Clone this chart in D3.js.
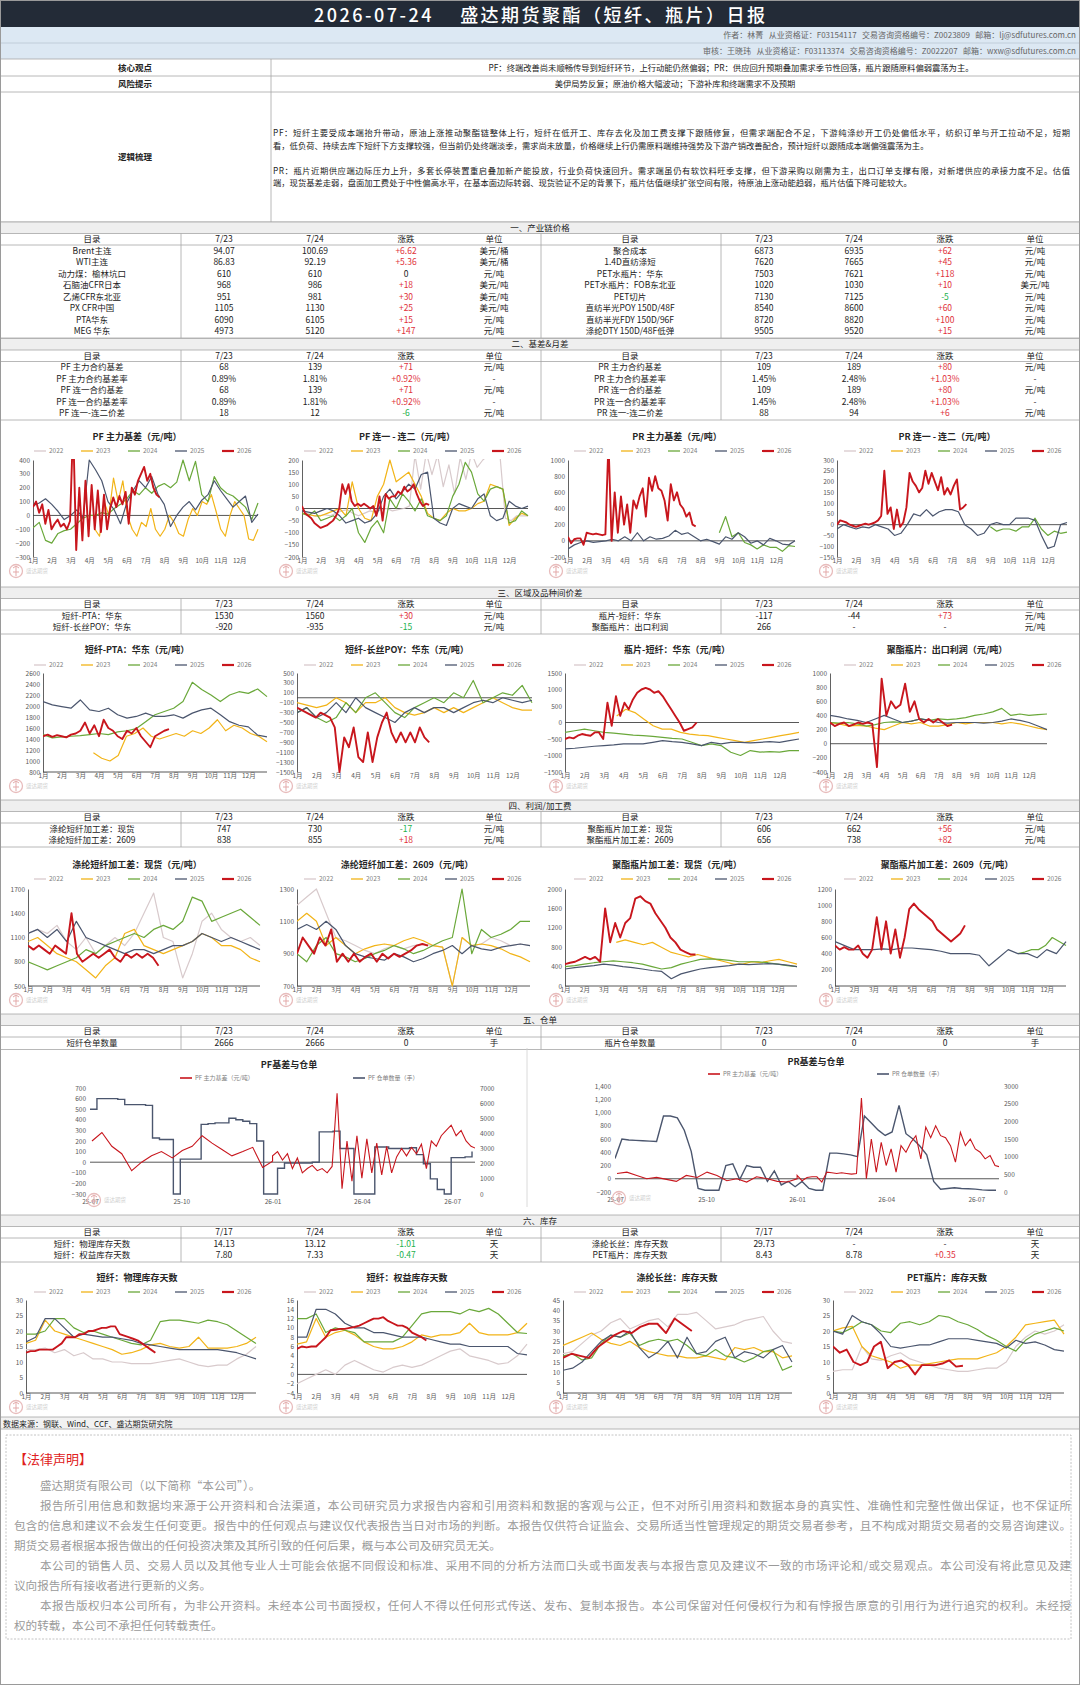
<!DOCTYPE html>
<html><head><meta charset="utf-8">
<script src="https://cdn.jsdelivr.net/npm/d3@7/dist/d3.min.js"></script>
<style>
body{margin:0;background:#fff;}
text{font-family:"Noto Sans CJK SC","Noto Sans",sans-serif;}
</style></head><body>
<svg id="page" width="1080" height="1685"></svg>
<script>
// ---------- 文字 ----------
const reportTitle = "2026-07-24    盛达期货聚酯（短纤、瓶片）日报";
const authorLine = "作者：林菁   从业资格证：F03154117   交易咨询资格编号：Z0023809   邮箱：lj@sdfutures.com.cn";
const reviewLine = "审核：王晓玮   从业资格证：F03113374   交易咨询资格编号：Z0022207   邮箱：wxw@sdfutures.com.cn";
const coreView = "PF：终端改善尚未顺畅传导到短纤环节，上行动能仍然偏弱；PR：供应回升预期叠加需求季节性回落，瓶片跟随原料偏弱震荡为主。";
const riskTip = "美伊局势反复；原油价格大幅波动；下游补库和终端需求不及预期";
const logicLines = [
  "PF：短纤主要受成本端抬升带动，原油上涨推动聚酯链整体上行，短纤在低开工、库存去化及加工费支撑下跟随修复，但需求端配合不足，下游纯涤纱开工仍处偏低水平，纺织订单与开工拉动不足，短期",
  "看，低负荷、持续去库下短纤下方支撑较强，但当前仍处终端淡季，需求尚未放量，价格继续上行仍需原料端维持强势及下游产销改善配合，预计短纤以跟随成本端偏强震荡为主。",
  "PR：瓶片近期供应端边际压力上升，多套长停装置重启叠加新产能投放，行业负荷快速回升。需求端虽仍有软饮料旺季支撑，但下游采购以刚需为主，出口订单支撑有限，对新增供应的承接力度不足。估值",
  "端，现货基差走弱，盘面加工费处于中性偏高水平，在基本面边际转弱、现货验证不足的背景下，瓶片估值继续扩张空间有限，待原油上涨动能趋弱，瓶片估值下降可能较大。"
];

// ---------- 表格 ----------
const chainLeft = [
  ["Brent主连","94.07","100.69","+6.62","美元/桶"],
  ["WTI主连","86.83","92.19","+5.36","美元/桶"],
  ["动力煤：榆林坑口","610","610","0","元/吨"],
  ["石脑油CFR日本","968","986","+18","美元/吨"],
  ["乙烯CFR东北亚","951","981","+30","美元/吨"],
  ["PX CFR中国","1105","1130","+25","美元/吨"],
  ["PTA华东","6090","6105","+15","元/吨"],
  ["MEG 华东","4973","5120","+147","元/吨"]];
const chainRight = [
  ["聚合成本","6873","6935","+62","元/吨"],
  ["1.4D直纺涤短","7620","7665","+45","元/吨"],
  ["PET水瓶片：华东","7503","7621","+118","元/吨"],
  ["PET水瓶片：FOB东北亚","1020","1030","+10","美元/吨"],
  ["PET切片","7130","7125","-5","元/吨"],
  ["直纺半光POY 150D/48F","8540","8600","+60","元/吨"],
  ["直纺半光FDY 150D/96F","8720","8820","+100","元/吨"],
  ["涤纶DTY 150D/48F低弹","9505","9520","+15","元/吨"]];
const basisLeft = [
  ["PF 主力合约基差","68","139","+71","元/吨"],
  ["PF 主力合约基差率","0.89%","1.81%","+0.92%","-"],
  ["PF 连一合约基差","68","139","+71","元/吨"],
  ["PF 连一合约基差率","0.89%","1.81%","+0.92%","-"],
  ["PF 连一-连二价差","18","12","-6","元/吨"]];
const basisRight = [
  ["PR 主力合约基差","109","189","+80","元/吨"],
  ["PR 主力合约基差率","1.45%","2.48%","+1.03%","-"],
  ["PR 连一合约基差","109","189","+80","元/吨"],
  ["PR 连一合约基差率","1.45%","2.48%","+1.03%","-"],
  ["PR 连一-连二价差","88","94","+6","元/吨"]];
const spreadLeft = [["短纤-PTA：华东","1530","1560","+30","元/吨"],["短纤-长丝POY：华东","-920","-935","-15","元/吨"]];
const spreadRight = [["瓶片-短纤：华东","-117","-44","+73","元/吨"],["聚酯瓶片：出口利润","266","-","-","元/吨"]];
const marginLeft = [["涤纶短纤加工差：现货","747","730","-17","元/吨"],["涤纶短纤加工差：2609","838","855","+18","元/吨"]];
const marginRight = [["聚酯瓶片加工差：现货","606","662","+56","元/吨"],["聚酯瓶片加工差：2609","656","738","+82","元/吨"]];
const receiptLeft = [["短纤仓单数量","2666","2666","0","手"]];
const receiptRight = [["瓶片仓单数量","0","0","0","手"]];
const invLeft = [["短纤：物理库存天数","14.13","13.12","-1.01","天"],["短纤：权益库存天数","7.80","7.33","-0.47","天"]];
const invRight = [["涤纶长丝：库存天数","29.73","-","-","天"],["PET瓶片：库存天数","8.43","8.78","+0.35","天"]];
const dayDates = ["7/23","7/24"];
const weekDates = ["7/17","7/24"];

// ---------- 季节性序列（数值沿起止月份均匀排布）----------
const monthLabels = ["1月","2月","3月","4月","5月","6月","7月","8月","9月","10月","11月","12月"];
const years = [2022,2023,2024,2025,2026];

const pfBasis23 = [-100,-150,100,0,270,100,250,0,-100,-150,-50,-80,50,-100,-150,-100,0,-50,-130,-150,-30,50,0,100,80,150,30,-100,-150,0,100,50,0,-170,-180,-100];
const pfBasis24 = [-90,-50,-180,-200,-130,-110,-100,-60,-20,0,0,20,10,50,80,120,180,150,200,160,210,230,200,240,400,250,390,150,100,280,200,160,140,100,60,-30,90];
const pfBasis25 = [70,90,120,80,30,-30,0,40,-20,400,330,250,100,40,-60,90,180,250,200,280,150,80,-80,0,60,100,40,110,150,250,180,120,60,100,140,-50,10];
const pfBasis26 = [60,100,20,80,-60,40,-100,-60,-30,-80,-60,-100,-40,650,-250,200,-180,250,-150,220,-100,180,-120,150,-100,50,130,60,140,80,170,-60,200,150,250,300,350,250,300,200,150,130];

const pfSpread22 = [0,-20,-30,-30,-25,-30,-20,-10,-5,-20,-30,-20,-10,-15,-5,0,-10,-5,0,10,220,80,230,140,220,90,180,60,210,120,230,170,200,220,210,230,-40,-50,-30,-30,-30];
const pfSpread23 = [-20,-25,-30,-30,-20,-10,0,-30,110,0,-40,-50,50,100,200,110,130,150,100,50,-20,-40,-50,-20,0,-10,-10,0,20,30,100,90,80,-70,-40,-20,-30];
const pfSpread24 = [-20,-30,-10,-50,-40,-30,-50,-30,0,-100,-140,-80,-50,-100,40,0,60,30,-10,40,-30,-40,-50,-30,50,100,190,150,60,30,80,90,80,-60,-50,-10,-30];
const pfSpread25 = [-10,-15,-20,-10,0,-10,-30,-60,-50,-40,-60,-50,-20,50,80,40,70,100,80,140,150,-40,-60,-70,0,20,10,0,40,60,-30,-50,-40,30,10,0,10];
const pfSpread26 = [10,-20,-30,-40,-60,-70,-80,-75,-70,-60,-50,-30,0,100,60,100,30,10,20,10,20,10,0,10,-30,50,-50,60,40,50,50,70,60,90,70,80,100,60,30,10,20,15];

const prBasis24 = [100,300,50,100,-20,-50,-100,-50,-80,-80,-130,-60,-70];
const prBasis25 = [-100,-50,-20,0,-20,-10,0,20,0,50,0,100,0,50,20,30,60,130,80,100,50,0,20,-10,-40,50,20,100,50,-30,0,-50,30,0,-40,-50,0];
const prBasis26 = [50,-30,20,30,30,-50,100,90,80,90,80,70,80,1220,0,600,100,550,200,450,100,500,400,550,650,300,780,620,800,650,620,500,250,700,500,600,450,400,300,350,200,180];

const prSpread24 = [-10,-30,-20,-20,-30,-10,-10,30,-20,-50,-30,-40,-35];
const prSpread25 = [-20,0,-10,-20,-10,-15,0,-10,-20,-50,-40,0,50,40,70,40,60,70,70,60,0,-20,-50,-40,0,10,0,0,30,30,30,20,-50,-110,-100,0,10];
const prSpread26 = [0,20,15,10,0,-5,-10,-5,0,5,0,5,10,20,40,250,50,80,-20,70,-10,10,80,240,200,180,150,170,250,190,240,200,160,220,140,170,140,180,210,70,80,95];

const ptaSpread23 = [1150,1050,1000,1100,1450,1500,1600,1450,1400,1450,1500,1450,1550,1500,1600,1750,1550,1650,1600,1500,1450,1350];
const ptaSpread24 = [1480,1420,1440,1450,1460,1480,1500,1480,1530,1550,1590,1715,1840,1900,1960,2080,2430,2300,2200,2080,2200,2260,2230,2310,2170];
const ptaSpread25 = [2080,2020,1990,1960,2110,1930,1900,1960,1840,1780,1810,1870,1810,1810,1840,1780,1870,1930,1960,1840,1715,1650,1620,1470,1440];
const ptaSpread26 = [1450,1480,1440,1470,1450,1430,1480,1500,1550,1700,1500,1650,1450,1750,1600,1550,1450,1400,1550,1500,1600,1450,1350,1250,1450,1500,1550,1580];

const poySpread23 = [-100,-150,-200,-150,0,-100,-300,-100,-100,0,-200,-300,-350,-300,-200,-300,-200,-300,-200,-100,0,-100,-200,-250,-250];
const poySpread24 = [-300,-200,-400,-500,-400,-100,-300,0,100,-100,-300,-400,-200,-100,0,-100,100,0,350,-100,0,100,50,250,-100];
const poySpread25 = [-300,-200,-400,-300,-100,-300,0,-200,-300,-400,-500,-300,-200,-300,-200,-200,-300,-200,-100,-50,-100,0,-50,-100,-50];
const poySpread26 = [-200,-250,-300,-350,-400,-300,-350,-400,-600,-1500,-800,-1000,-600,-1200,-1300,-700,-1300,-800,-500,-300,-700,-900,-700,-900,-700,-900,-600,-800,-900];

const bottleFiber23 = [200,400,300,100,-100,-200,-200,-300,-350,-380,-400,-450,-500,-550,-600,-550,-500,-450,-400,-350,-300];
const bottleFiber24 = [-300,-250,-200,-250,-300,-320,-350,-380,-400,-420,-450,-480,-500,-600,-700,-650,-700,-900,-1000,-850,-900,-880,-900,-850,-850];
const bottleFiber25 = [-800,-780,-750,-720,-700,-680,-650,-650,-650,-600,-550,-580,-600,-650,-700,-600,-650,-600,-600,-620,-600,-580,-600,-550,-500];
const bottleFiber26 = [-500,-450,-480,-400,-350,-380,-400,-300,-300,-500,600,-100,800,200,600,400,700,900,1000,1050,1000,900,950,800,600,400,200,0,-250,-200,-150,0];

const exportProfit23 = [300,280,250,260,250,220,200,250,300,280,300,250,250,270,300,280,300,300,300,280,300,280,250,220,200];
const exportProfit24 = [300,290,300,280,250,270,300,310,300,320,350,330,350,340,350,370,400,420,450,500,400,420,400,410,420];
const exportProfit25 = [400,380,350,330,300,350,400,350,300,320,350,330,300,290,300,300,300,290,300,320,350,330,300,250,200];
const exportProfit26 = [300,250,280,300,250,270,300,280,300,280,-330,920,400,600,500,550,850,450,600,350,300,350,300,350,300,250,270];

const fiberSpot22 = [1150,1200,1150,1250,1050,950,1100,900,1000,1100,1000,1150,1400,1650,1100,1050,600,900,1300,1400,1200,1100,1050,1100,1000];
const fiberSpot23 = [1050,1100,1000,900,850,800,700,600,750,850,1150,1200,1000,950,900,950,1000,1050,1150,1100,1000,1000,950,850,800];
const fiberSpot24 = [800,750,700,750,800,850,950,900,1000,1050,1100,1150,1100,1200,1250,1200,1300,1600,1550,1300,1350,1400,1450,1350,1250];
const fiberSpot25 = [1150,1200,1100,1200,1050,1300,1100,1050,1000,950,900,950,950,900,950,1000,1000,1050,1150,1100,1050,1100,1050,1000,950];
const fiberSpot26 = [1000,950,1000,950,900,1000,950,900,1400,900,800,850,900,850,900,950,850,800,900,850,900,850,900,850,750];

const fiber2609_22 = [1200,1250,1300,1150,1000,980,950,920,900,930,950,930,950,960,950,940,700,1000,950,960,1000,980,950,960,950];
const fiber2609_23 = [1100,1150,1100,950,1000,950,900,930,950,960,950,980,1000,980,950,940,700,1000,950,960,950,930,900,880,850];
const fiber2609_24 = [900,850,950,1000,900,880,850,870,900,920,950,930,900,920,950,980,1000,1300,900,1050,1000,1020,1050,1100,1100];
const fiber2609_25 = [1050,1080,1050,1100,1050,950,900,880,870,860,900,880,850,870,900,920,950,900,950,930,920,940,950,960,950];
const fiber2609_26 = [900,1000,950,900,1000,950,1050,850,900,850,900,850,880,900,850,900,870,900,880,900,920,950,960,950];

const bottleSpot23 = [900,950,900,850,900,800,700,650,600,650,600,550,500,450,450,500,480,520,550,500,450];
const bottleSpot24 = [400,420,450,480,500,520,500,480,450,400,350,380,450,500,550,560,550,530,500,500,500,480,450,420,400];
const bottleSpot25 = [350,380,400,420,450,430,400,380,350,320,300,150,250,300,350,380,400,420,450,440,450,460,450,430,400];
const bottleSpot26 = [450,480,500,550,600,550,600,500,1600,900,1300,1000,1300,1400,1800,1850,1750,1700,1500,1350,1200,1000,900,750,700,650,650];

const bottle2609_24 = [400,420,450,450,500,600,550,500];
const bottle2609_25 = [550,500,450,450,450,460,450,470,470,460,450,430,400,400,400,380,250,350,450,400,400,350,450,400,550];
const bottle2609_26 = [500,450,480,450,450,500,400,350,450,850,450,800,400,700,350,600,950,1020,950,900,850,800,700,650,600,550,600,650,750];

const fiberPhys22 = [14,14,14.5,13,14,12,13,11,11,10,10,9.5,9.5,9.5,10,10.5,11,10,9,8.5,9,9,11,12.5,15];
const fiberPhys23 = [16,17,23.5,20,19,18,17,16,15,14,12.5,13,14,15.5,16,15,14.5,15,18,14.5,14.5,14.5,15,16,18];
const fiberPhys24 = [19,19,20,24,24,21,19.5,20,19,18,17,16,15.5,17,23,23.5,23.5,23,22.5,23.5,23,22,20,18,16];
const fiberPhys25 = [16.5,18,24,24,21,18,19,18.5,18,18,17.5,17,16,15.5,15,14.5,14,14,14,14,14,13.5,13,12,11];
const fiberPhys26 = [13,13.5,13.5,14,14,14,14,15,16,18,18,18,19,19,20,20,20.5,21,21,21.5,21.5,19,18.5,18,17.5,17,16,15,14,13];

const fiberEq22 = [-2,-1,0,1,0,2,3,2,1,0.5,1.5,2,1.5,2,3,4,5,5.5,4,3.5,3,2.2,2.5,4,6.5];
const fiberEq23 = [6.5,7,12,8,9,9.5,8.5,7,6,5.5,5.5,6,7,8.5,8,8.5,8.5,9,11,9,8.5,8.5,8.5,9,11];
const fiberEq24 = [12,12,13,9,10,9.5,9,7,7,7,7,8,10.5,13,13.5,13.5,13.5,13,14,13.5,14.2,13,11,9,8.8];
const fiberEq25 = [8,8,14,14,13,11,10,10,9,9,8.5,8,8,8,7.5,7,6.5,6.5,6,6,6,6,6,4.5,4.2];
const fiberEq26 = [5.5,6,5.8,6,6,7,8,9.5,9.6,9.8,9.8,10,10.2,10.5,11,11.5,12,12,12.3,11.5,11,10.5,10.5,10,9,8.5,8,7.3];

const filament22 = [19,20,24,28,30,34,36,31,33,35,36,32,38,38,39,35,31,32,33,35,36,37,30,25,24];
const filament23 = [23,25,27,29,26,24,23,25,22,20,19,18,18,17,17,18,17,16,22,21,22,20,20,17,18];
const filament24 = [18,19,16,17,24,28,27,29,23,25,26,25,26,23,19,18,21,18,17,15,17,20,21,11,13];
const filament25 = [11,12,15,20,25,28,27,30,22,17,20,25,17,27,19,20,25,27,17,20,19,17,21,23,15];
const filament26 = [17,19,18,17,22,25,28,30,29,32,33.5,33.5,29,36,33,30];

const petInv22 = [7,7.5,7.5,15,11,10.5,12,13,11,10,9,8,7.5,7,7,7.5,8,8,10,15,18,20,19,20,22];
const petInv23 = [20,21,21.5,15,12,11,10,8,9,9,9.5,10,10.5,11,11,11,12,13,15,18,22,22.5,23,23.5,19];
const petInv24 = [20,19.5,21,23,22,20,19.5,22.5,23,22,23,25,24.5,23,22,20.5,18.5,17,15,13.5,17,19,20,21,20];
const petInv25 = [20,19,25,23,22,19,15,14.5,15,15.5,15.5,16.5,17.5,17.5,17.5,17,16.5,16,14.5,17,16,16.5,15.5,14,13.5];
const petInv26 = [15,13,14,10,9,10,15,16.5,8,10,10.5,9,6,9,9,9,9.5,10.5,8.5,8.8];

// ---------- 仓单（周度，自2025-07-01起）----------
const pfReceipts = [5600,6300,6300,6300,6250,5900,5900,5900,5850,3700,3600,3600,0,2300,2300,2300,4600,4650,4700,4700,5000,4900,4800,4650,3500,0,0,1700,2050,2050,2050,2050,2100,4100,4100,4150,3000,3000,0,0,0,3100,3100,3000,3000,3000,3050,2600,2000,1000,300,0,2400,2400,2450,2800];
const prReceipts = [950,1500,1470,1460,1450,1440,1430,2150,2150,2100,1750,1150,100,50,50,50,750,800,350,750,700,700,300,600,200,300,150,300,100,50,50,1100,1100,1080,1050,1000,2150,1950,1750,1600,1700,2450,1650,1500,1300,1050,300,80,100,120,100,90,80,60,50,50];
const receiptTickLabels = ["25-07","25-10","26-01","26-04","26-07"];

const legalLines = [
  "盛达期货有限公司（以下简称“本公司”）。",
  "报告所引用信息和数据均来源于公开资料和合法渠道，本公司研究员力求报告内容和引用资料和数据的客观与公正，但不对所引用资料和数据本身的真实性、准确性和完整性做出保证，也不保证所",
  "包含的信息和建议不会发生任何变更。报告中的任何观点与建议仅代表报告当日对市场的判断。本报告仅供符合证监会、交易所适当性管理规定的期货交易者参考，且不构成对期货交易者的交易咨询建议。",
  "期货交易者根据本报告做出的任何投资决策及其所引致的任何后果，概与本公司及研究员无关。",
  "本公司的销售人员、交易人员以及其他专业人士可能会依据不同假设和标准、采用不同的分析方法而口头或书面发表与本报告意见及建议不一致的市场评论和/或交易观点。本公司没有将此意见及建",
  "议向报告所有接收者进行更新的义务。",
  "本报告版权归本公司所有，为非公开资料。未经本公司书面授权，任何人不得以任何形式传送、发布、复制本报告。本公司保留对任何侵权行为和有悖报告原意的引用行为进行追究的权利。未经授",
  "权的转载，本公司不承担任何转载责任。"
];

// ======================================================
const svg = d3.select("#page");
const W = 1080;
const yearColor = {2022:"#d8cacc",2023:"#f2b418",2024:"#6aa83a",2025:"#4b566e",2026:"#c8161d"};
const lineGray = "#a6a6a6";

function hline(y, x1 = 0, x2 = W, c = lineGray) {
  svg.append("line").attr("x1", x1).attr("x2", x2).attr("y1", y).attr("y2", y).attr("stroke", c).attr("stroke-width", 0.8);
}
function vline(x, y1, y2, c = lineGray) {
  svg.append("line").attr("x1", x).attr("x2", x).attr("y1", y1).attr("y2", y2).attr("stroke", c).attr("stroke-width", 0.8);
}
function txt(x, y, s, size, opt = {}) {
  const t = svg.append("text").attr("x", x).attr("y", y).attr("text-anchor", opt.anchor || "middle")
    .attr("fill", opt.fill || "#222").style("font-size", size + "px").text(s);
  if (opt.bold) t.style("font-weight", "bold");
  if (opt.len) t.attr("textLength", opt.len).attr("lengthAdjust", "spacing");
  if (opt.pre) t.style("white-space", "pre");
  return t;
}

// ---------- 顶部 ----------
svg.append("rect").attr("x", 0).attr("y", 0).attr("width", W).attr("height", 27).attr("fill", "#232b37");
txt(314, 21.5, reportTitle, 18, {anchor: "start", fill: "#fff", pre: true, len: 451}).style("font-weight", "500");
svg.append("rect").attr("x", 0).attr("y", 27).attr("width", W).attr("height", 32).attr("fill", "#dce8f3");
hline(43, 0, W, "#b9c6d2");
hline(59);
txt(1076, 38, authorLine, 8, {anchor: "end", fill: "#666", pre: true});
txt(1076, 54, reviewLine, 8, {anchor: "end", fill: "#666", pre: true});
hline(76); hline(92); hline(222);
vline(271, 59, 222);
txt(135, 70.5, "核心观点", 8.5, {bold: true});
txt(731, 70.5, coreView, 8.3);
txt(135, 87, "风险提示", 8.5, {bold: true});
txt(675, 87, riskTip, 8.3);
txt(135, 160, "逻辑梳理", 8.5, {bold: true});
[136, 149, 174, 186].forEach((y, i) => txt(273, y, logicLines[i], 8.3, {anchor: "start", len: i % 2 === 0 ? 797 : null}));

// ---------- 表格 ----------
const colX = [92, 224, 315, 406, 494, 630, 764, 854, 945, 1035];
function changeColor(v) {
  if (v.startsWith("+")) return "#e0313a";
  if (v.startsWith("-") && v.length > 1) return "#22b14c";
  return "#222";
}
function table(top, title, dates, left, right) {
  const h = 11.5, l1 = top + h, l2 = l1 + h, bottom = l2 + h * left.length + 1;
  svg.append("rect").attr("x", 0).attr("y", top).attr("width", W).attr("height", h).attr("fill", "#efefef");
  hline(top); hline(l1); hline(l2); hline(bottom);
  [181, 541, 721].forEach(x => vline(x, l1, bottom));
  txt(540, top + 8.8, title, 8.5);
  const head = ["目录", dates[0], dates[1], "涨跌", "单位"];
  head.concat(head).forEach((s, i) => txt(colX[i], l1 + 8.8, s, 8.5));
  [left, right].forEach((rows, side) => {
    rows.forEach((r, i) => {
      r.forEach((v, j) => {
        txt(colX[side * 5 + j], l2 + h * i + 8.8, v, 8.5, {fill: j === 3 ? changeColor(v) : "#222"});
      });
    });
  });
  return bottom;
}
table(222, "一、产业链价格", dayDates, chainLeft, chainRight);
table(338.5, "二、基差&月差", dayDates, basisLeft, basisRight);
table(587, "三、区域及品种间价差", dayDates, spreadLeft, spreadRight);
table(800, "四、利润/加工费", dayDates, marginLeft, marginRight);
table(1014, "五、仓单", dayDates, receiptLeft, receiptRight);
table(1215, "六、库存", weekDates, invLeft, invRight);

// ---------- 季节性图 ----------
const rowGeo = [
  {title: 436, legend: 451, top: 460, bottom: 557, label: 566},
  {title: 649, legend: 665, top: 673, bottom: 772, label: 781},
  {title: 864, legend: 879, top: 889, bottom: 986, label: 995},
  {title: 1277, legend: 1292, top: 1300, bottom: 1393, label: 1402}
];
const charts = [
  {cell: 0, left: 33, right: 258, row: 0, title: "PF 主力基差（元/吨）", domain: [-300, 400], step: 100,
   series: [[2023, 3.3, 12, pfBasis23], [2024, 0, 12, pfBasis24], [2025, 0, 12, pfBasis25], [2026, 0, 6.75, pfBasis26]]},
  {cell: 270, left: 302, right: 528, row: 0, title: "PF 连一 - 连二（元/吨）", domain: [-200, 200], step: 50,
   series: [[2022, 0, 12, pfSpread22], [2023, 0, 12, pfSpread23], [2024, 0, 12, pfSpread24], [2025, 0, 12, pfSpread25], [2026, 0, 6.75, pfSpread26]]},
  {cell: 540, left: 568, right: 795, row: 0, title: "PR 主力基差（元/吨）", domain: [-200, 1000], step: 200,
   series: [[2024, 8, 12, prBasis24], [2025, 0, 12, prBasis25], [2026, 0, 6.75, prBasis26]]},
  {cell: 810, left: 837, right: 1067, row: 0, title: "PR 连一 - 连二（元/吨）", domain: [-150, 300], step: 50,
   series: [[2024, 8, 12, prSpread24], [2025, 0, 12, prSpread25], [2026, 0, 6.75, prSpread26]]},
  {cell: 0, left: 43, right: 267, row: 1, title: "短纤-PTA：华东（元/吨）", domain: [800, 2600], step: 200,
   series: [[2023, 2.7, 12, ptaSpread23], [2024, 0, 12, ptaSpread24], [2025, 0, 12, ptaSpread25], [2026, 0, 6.75, ptaSpread26]]},
  {cell: 270, left: 297, right: 532, row: 1, title: "短纤-长丝POY：华东（元/吨）", domain: [-1500, 500], step: 200,
   series: [[2023, 0, 12, poySpread23], [2024, 0, 12, poySpread24], [2025, 0, 12, poySpread25], [2026, 0, 6.75, poySpread26]]},
  {cell: 540, left: 565, right: 799, row: 1, title: "瓶片-短纤：华东（元/吨）", domain: [-1500, 1500], step: 500,
   series: [[2023, 2.65, 12, bottleFiber23], [2024, 0, 12, bottleFiber24], [2025, 0, 12, bottleFiber25], [2026, 0, 6.75, bottleFiber26]]},
  {cell: 810, left: 830, right: 1047, row: 1, title: "聚酯瓶片：出口利润（元/吨）", domain: [-400, 1000], step: 200,
   series: [[2023, 0, 12, exportProfit23], [2024, 0, 12, exportProfit24], [2025, 0, 12, exportProfit25], [2026, 0, 6.75, exportProfit26]]},
  {cell: 0, left: 28, right: 260, row: 2, title: "涤纶短纤加工差：现货（元/吨）", domain: [500, 1700], step: 300,
   series: [[2022, 0, 12, fiberSpot22], [2023, 0, 12, fiberSpot23], [2024, 0, 12, fiberSpot24], [2025, 0, 12, fiberSpot25], [2026, 0, 6.75, fiberSpot26]]},
  {cell: 270, left: 297, right: 530, row: 2, title: "涤纶短纤加工差：2609（元/吨）", domain: [700, 1300], step: 200,
   series: [[2022, 0, 12, fiber2609_22], [2023, 0, 12, fiber2609_23], [2024, 0, 12, fiber2609_24], [2025, 0, 12, fiber2609_25], [2026, 0, 6.75, fiber2609_26]]},
  {cell: 540, left: 565, right: 797, row: 2, title: "聚酯瓶片加工差：现货（元/吨）", domain: [0, 2000], step: 400,
   series: [[2023, 2.65, 12, bottleSpot23], [2024, 0, 12, bottleSpot24], [2025, 0, 12, bottleSpot25], [2026, 0, 6.75, bottleSpot26]]},
  {cell: 810, left: 835, right: 1066, row: 2, title: "聚酯瓶片加工差：2609（元/吨）", domain: [0, 1200], step: 200,
   series: [[2024, 9.5, 12, bottle2609_24], [2025, 0, 12, bottle2609_25], [2026, 0, 6.75, bottle2609_26]]},
  {cell: 0, left: 26, right: 256, row: 3, title: "短纤：物理库存天数", domain: [0, 30], step: 5,
   series: [[2022, 0, 12, fiberPhys22], [2023, 0, 12, fiberPhys23], [2024, 0, 12, fiberPhys24], [2025, 0, 12, fiberPhys25], [2026, 0, 6.75, fiberPhys26]]},
  {cell: 270, left: 297, right: 527, row: 3, title: "短纤：权益库存天数", domain: [-4, 16], step: 2,
   series: [[2022, 0, 12, fiberEq22], [2023, 0, 12, fiberEq23], [2024, 0, 12, fiberEq24], [2025, 0, 12, fiberEq25], [2026, 0, 6.75, fiberEq26]]},
  {cell: 540, left: 563, right: 792, row: 3, title: "涤纶长丝：库存天数", domain: [0, 45], step: 5,
   series: [[2022, 0, 12, filament22], [2023, 0, 12, filament23], [2024, 0, 12, filament24], [2025, 0, 12, filament25], [2026, 0, 6.75, filament26]]},
  {cell: 810, left: 833, right: 1064, row: 3, title: "PET瓶片：库存天数", domain: [0, 30], step: 5,
   series: [[2022, 0, 12, petInv22], [2023, 0, 12, petInv23], [2024, 0, 12, petInv24], [2025, 0, 12, petInv25], [2026, 0, 6.75, petInv26]]}
];

function toPoints(start, end, vals) {
  const n = vals.length;
  return vals.map((v, i) => ({m: start + (end - start) * i / (n - 1), v}));
}

function logo(g, x, y) {
  g.append("circle").attr("cx", x).attr("cy", y).attr("r", 6.5).attr("fill", "none").attr("stroke", "#e8bcbc").attr("stroke-width", 1.3);
  g.append("path").attr("d", `M${x - 3},${y - 3}L${x},${y - 5}L${x + 3},${y - 3}M${x},${y - 5}V${y + 5}M${x - 3},${y + 1}H${x + 3}`)
    .attr("stroke", "#e3a9a9").attr("fill", "none").attr("stroke-width", 1);
  g.append("text").attr("x", x + 10).attr("y", y + 2).attr("fill", "#cfcfcf").style("font-size", "5.5px").text("盛达期货");
}

function styleAxis(a, size) {
  a.attr("font-family", null).attr("font-size", null);
  a.selectAll("text").attr("fill", "#595959").style("font-size", size + "px");
  a.selectAll(".tick line").remove();
}

charts.forEach((c, ci) => {
  const r = rowGeo[c.row];
  const g = svg.append("g");
  const x = d3.scaleLinear().domain([0, 12]).range([c.left, c.right]);
  const y = d3.scaleLinear().domain(c.domain).range([r.bottom, r.top]);

  g.append("text").attr("x", c.cell + 137).attr("y", r.title + 3.5).attr("text-anchor", "middle")
    .attr("fill", "#262626").style("font-size", "9px").style("font-weight", "bold").text(c.title);

  years.forEach((yr, i) => {
    const lx = c.cell + 34 + i * 47;
    g.append("line").attr("x1", lx).attr("x2", lx + 12).attr("y1", r.legend).attr("y2", r.legend)
      .attr("stroke", yearColor[yr]).attr("stroke-width", yr === 2026 ? 2.2 : 1.3);
    g.append("text").attr("x", lx + 15).attr("y", r.legend + 2.3).attr("fill", "#808080").style("font-size", "6.5px").text(yr);
  });

  const ticks = d3.range(c.domain[0], c.domain[1] + c.step / 2, c.step);
  g.append("g").attr("transform", `translate(${c.left},0)`)
    .call(d3.axisLeft(y).tickValues(ticks).tickSize(0).tickPadding(3).tickFormat(d3.format("d")))
    .call(a => { styleAxis(a, 6.5); a.select(".domain").attr("stroke", "#3a3a3a").attr("stroke-width", 0.8); });

  const base = (c.domain[0] < 0 && c.domain[1] > 0) ? 0 : c.domain[0];
  g.append("line").attr("x1", c.left).attr("x2", c.right).attr("y1", y(base)).attr("y2", y(base))
    .attr("stroke", "#444").attr("stroke-width", 0.9);

  g.append("g").attr("transform", `translate(0,${r.label - 6})`)
    .call(d3.axisBottom(x).tickValues(d3.range(12)).tickSize(0).tickPadding(0).tickFormat(i => monthLabels[i]))
    .call(a => { styleAxis(a, 6.5); a.select(".domain").remove(); a.selectAll("text").attr("dy", "0.5em"); });

  const clipId = "clip" + ci;
  g.append("clipPath").attr("id", clipId).append("rect")
    .attr("x", c.left).attr("y", r.top - 1).attr("width", c.right - c.left + 2).attr("height", r.bottom - r.top + 2);
  const line = d3.line().x(d => x(d.m)).y(d => y(d.v));
  const plot = g.append("g").attr("clip-path", `url(#${clipId})`);
  c.series.forEach(([yr, s, e, vals]) => {
    plot.append("path").datum(toPoints(s, e, vals)).attr("d", line).attr("fill", "none")
      .attr("stroke", yearColor[yr]).attr("stroke-width", yr === 2026 ? 1.9 : 1.2).attr("stroke-linejoin", "round");
  });
  logo(g, c.cell + 16, r.label + 5);
});

// ---------- 基差与仓单 ----------
function seasonalToDates(year, start, end, vals, fromMonth) {
  return toPoints(start, end, vals).filter(p => p.m >= fromMonth)
    .map(p => ({d: new Date(year, 0, 1 + Math.round(p.m * 365 / 12)), v: p.v}));
}
function weeklyDates(vals) {
  return vals.map((v, i) => ({d: new Date(2025, 6, 1 + 7 * i), v}));
}
const receiptCharts = [
  {title: "PF基差与仓单", tx: 289, ty: 1065, ly: 1078, lx: [180, 353], left: 90, right: 475, top: 1088, bottom: 1194,
   lDomain: [-300, 700], lStep: 100, lFmt: d3.format("d"), rDomain: [0, 7000], rStep: 1000,
   names: ["PF 主力基差（元/吨）", "PF 仓单数量（手）"],
   basis: seasonalToDates(2025, 0, 12, pfBasis25, 6).concat(seasonalToDates(2026, 0, 6.75, pfBasis26, 0)),
   receipts: weeklyDates(pfReceipts), curve: d3.curveStepAfter},
  {title: "PR基差与仓单", tx: 816, ty: 1062, ly: 1074, lx: [708, 877], left: 615, right: 999, top: 1086, bottom: 1192,
   lDomain: [-200, 1400], lStep: 200, lFmt: d3.format(","), rDomain: [0, 3000], rStep: 500,
   names: ["PR 主力基差（元/吨）", "PR 仓单数量（手）"],
   basis: seasonalToDates(2025, 0, 12, prBasis25, 6).concat(seasonalToDates(2026, 0, 6.75, prBasis26, 0)),
   receipts: weeklyDates(prReceipts), curve: d3.curveLinear}
];
vline(527, 1048, 1207, "#d0d0d0");
receiptCharts.forEach((c, ci) => {
  const g = svg.append("g");
  const x = d3.scaleTime().domain([new Date(2025, 6, 1), new Date(2026, 6, 24)]).range([c.left, c.right]);
  const yl = d3.scaleLinear().domain(c.lDomain).range([c.bottom, c.top]);
  const yr = d3.scaleLinear().domain(c.rDomain).range([c.bottom, c.top]);
  g.append("text").attr("x", c.tx).attr("y", c.ty + 3).attr("text-anchor", "middle").attr("fill", "#262626")
    .style("font-size", "9px").style("font-weight", "bold").text(c.title);
  [yearColor[2026], "#4b566e"].forEach((col, i) => {
    g.append("line").attr("x1", c.lx[i]).attr("x2", c.lx[i] + 12).attr("y1", c.ly).attr("y2", c.ly)
      .attr("stroke", col).attr("stroke-width", 1.6);
    g.append("text").attr("x", c.lx[i] + 15).attr("y", c.ly + 2.2).attr("fill", "#808080").style("font-size", "6px").text(c.names[i]);
  });
  g.append("g").attr("transform", `translate(${c.left},0)`)
    .call(d3.axisLeft(yl).tickValues(d3.range(c.lDomain[0], c.lDomain[1] + 1, c.lStep)).tickSize(0).tickPadding(4).tickFormat(c.lFmt))
    .call(a => { styleAxis(a, 6.5); a.select(".domain").remove(); });
  g.append("g").attr("transform", `translate(${c.right},0)`)
    .call(d3.axisRight(yr).tickValues(d3.range(c.rDomain[0], c.rDomain[1] + 1, c.rStep)).tickSize(0).tickPadding(5).tickFormat(d3.format("d")))
    .call(a => { styleAxis(a, 6.5); a.select(".domain").remove(); });
  const tickDates = [new Date(2025, 6, 1), new Date(2025, 9, 1), new Date(2026, 0, 1), new Date(2026, 3, 1), new Date(2026, 6, 1)];
  g.append("g").attr("transform", `translate(0,${c.bottom + 2})`)
    .call(d3.axisBottom(x).tickValues(tickDates).tickSize(0).tickPadding(3).tickFormat((d, i) => receiptTickLabels[i]))
    .call(a => { styleAxis(a, 6.5); a.select(".domain").remove(); });
  g.append("line").attr("x1", c.left).attr("x2", c.right).attr("y1", yl(0)).attr("y2", yl(0)).attr("stroke", "#444").attr("stroke-width", 0.9);
  const clipId = "rclip" + ci;
  g.append("clipPath").attr("id", clipId).append("rect").attr("x", c.left).attr("y", c.top - 1).attr("width", c.right - c.left).attr("height", c.bottom - c.top + 2);
  const plot = g.append("g").attr("clip-path", `url(#${clipId})`);
  plot.append("path").datum(c.receipts).attr("fill", "none").attr("stroke", "#4b566e").attr("stroke-width", 1.4)
    .attr("d", d3.line().curve(c.curve).x(d => x(d.d)).y(d => yr(d.v)));
  plot.append("path").datum(c.basis).attr("fill", "none").attr("stroke", yearColor[2026]).attr("stroke-width", 1.1)
    .attr("d", d3.line().x(d => x(d.d)).y(d => yl(d.v)));
  logo(g, c.left + 4, c.bottom + 6);
});

// ---------- 数据来源 & 法律声明 ----------
svg.append("rect").attr("x", 0).attr("y", 1417).attr("width", W).attr("height", 12).attr("fill", "#f2f2f2");
hline(1417); hline(1429);
txt(3, 1426.5, "数据来源：钢联、Wind、CCF、盛达期货研究院", 8, {anchor: "start"});
svg.append("rect").attr("x", 6).attr("y", 1435).attr("width", 1065).attr("height", 204).attr("fill", "none")
  .attr("stroke", "#b5b5b5").attr("stroke-dasharray", "2,1.5").attr("stroke-width", 0.8);
txt(14, 1464, "【法律声明】", 13, {anchor: "start", fill: "#e02020"});
const legalIndent = [true, true, false, false, true, false, true, false];
const legalFull = [false, true, true, false, true, false, true, false];
legalLines.forEach((s, i) => {
  const x0 = legalIndent[i] ? 40 : 14;
  txt(x0, 1490 + i * 20, s, 11.6, {anchor: "start", fill: "#9a9a9a", len: legalFull[i] ? 1071 - x0 : null});
});

// 外框
svg.append("rect").attr("x", 0.5).attr("y", 0.5).attr("width", W - 1).attr("height", 1684).attr("fill", "none").attr("stroke", "#9a9a9a");
</script>
</body></html>
